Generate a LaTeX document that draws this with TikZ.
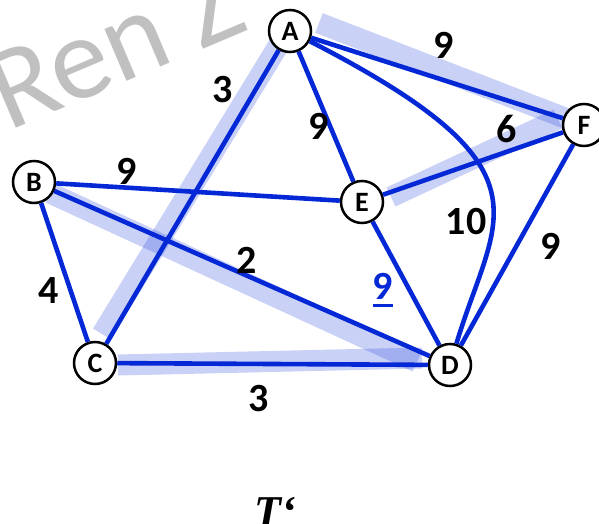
\documentclass[tikz,border=0pt]{standalone}
\usepackage{fontspec}
\setmainfont{Carlito}
\newfontfamily\capfont{Liberation Serif}
\definecolor{edgeblue}{RGB}{5,40,215}
\definecolor{markblue}{RGB}{40,70,220}
\definecolor{wmgray}{RGB}{192,192,192}

\begin{document}
\begin{tikzpicture}[x=1pt,y=-1pt,
  vertex/.style={circle,draw=black,line width=2.5pt,fill=white,minimum size=42pt,inner sep=0pt,font=\fontsize{28}{28}\selectfont\bfseries},
  edge/.style={draw=edgeblue,line width=4.6pt},
  treemark/.style={markblue,opacity=0.25,line width=21pt},
  weight/.style={inner sep=0pt,font=\fontsize{40}{40}\selectfont\bfseries}]
  % Screen convention: y=0 at top, y grows downward (599 x 524 frame).
  \useasboundingbox (0,0) rectangle (599,524);
  \clip (0,0) rectangle (599,524);
  % watermark behind everything
  \node[anchor=base west,rotate=23,text=wmgray,inner sep=0pt,font=\fontsize{118}{118}\selectfont] (wm) at (8,132) {Ren Z};
  % tree edges of T', marked by hand
  \draw[treemark] (102,334) -- (283,38);   % A-C
  \draw[treemark] (319,23) -- (565,118);   % A-F
  \draw[treemark] (391,197) -- (558,119);  % E-F
  \draw[treemark] (50,193) -- (417,362);   % B-D
  \draw[treemark] (118,365) -- (422,358);  % C-D
  % vertices
  \node[vertex] (A) at (290,31) {A};
  \node[vertex] (B) at (34,182) {B};
  \node[vertex] (C) at (95,363) {C};
  \node[vertex] (D) at (450,365) {D};
  \node[vertex] (E) at (362,202) {E};
  \node[vertex] (F) at (584,125) {F};
  % edges
  \draw[edge] (A) -- (C);
  \draw[edge] (A) -- (F);
  \draw[edge] (A) -- (E);
  \draw[edge] (A) .. controls (560,170) and (495,215) .. (D);
  \draw[edge] (B) -- (E);
  \draw[edge] (B) -- (C);
  \draw[edge] (B) -- (D);
  \draw[edge] (C) -- (D);
  \draw[edge] (E) -- (F);
  \draw[edge] (E) -- (D);
  \draw[edge] (F) -- (D);
  % weights
  \node[weight] (wAC) at (223,90) {3};
  \node[weight] (wAF) at (444,45) {9};
  \node[weight] (wAE) at (319,126) {9};
  \node[weight] (wEF) at (507,129) {6};
  \node[weight] (wBE) at (127,171) {9};
  \node[weight] (wBD) at (247,260) {2};
  \node[weight] (wBC) at (49,291) {4};
  \node[weight] (wAD) at (466,222) {10};
  \node[weight] (wFD) at (551,246) {9};
  \node[weight,text=edgeblue] (wED) at (383,290) {9\llap{\rule[-7pt]{20pt}{2.8pt}}};
  \node[weight] (wCD) at (259,399) {3};
  % caption
  \node[anchor=base,inner sep=0pt,font=\capfont\fontsize{44}{44}\selectfont\bfseries\itshape] (cap) at (275,526) {T‘};
\end{tikzpicture}
\end{document}
